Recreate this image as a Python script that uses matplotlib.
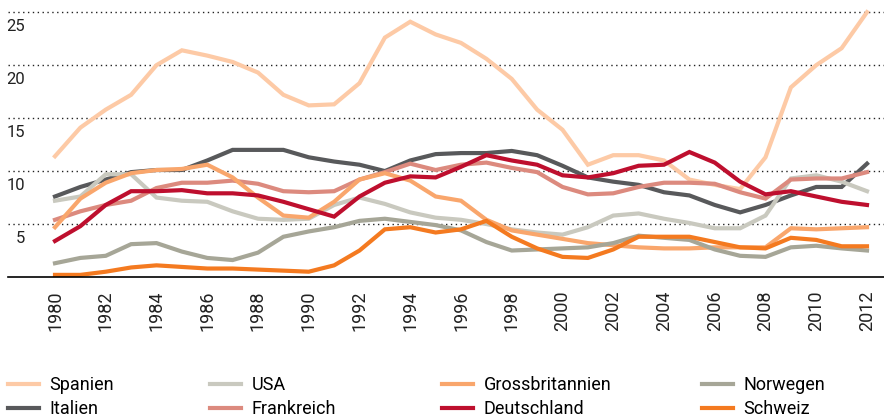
import numpy as np
import matplotlib
matplotlib.use('Agg')
import matplotlib.pyplot as plt
from matplotlib.transforms import ScaledTranslation

plt.rcParams['font.family'] = ['Roboto', 'DejaVu Sans']

years = list(range(1980, 2013))

spanien = [11.4, 14.1, 15.8, 17.2, 20.0, 21.4, 20.9, 20.3, 19.3, 17.2, 16.2, 16.3, 18.3, 22.6, 24.1, 22.9, 22.1,
           20.6, 18.7, 15.8, 13.9, 10.6, 11.5, 11.5, 11.0, 9.2, 8.7, 8.3, 11.3, 17.9, 20.0, 21.6, 25.0]
italien = [7.6, 8.5, 9.2, 9.9, 10.1, 10.1, 11.0, 12.0, 12.0, 12.0, 11.3, 10.9, 10.6, 10.0, 11.0, 11.6, 11.7,
           11.7, 11.9, 11.5, 10.5, 9.4, 9.0, 8.7, 8.0, 7.7, 6.8, 6.1, 6.8, 7.7, 8.5, 8.5, 10.7]
usa = [7.2, 7.6, 9.7, 9.7, 7.5, 7.2, 7.1, 6.2, 5.5, 5.4, 5.5, 6.8, 7.5, 6.9, 6.1, 5.6, 5.4,
       5.0, 4.5, 4.2, 4.0, 4.7, 5.8, 6.0, 5.5, 5.1, 4.6, 4.6, 5.8, 9.3, 9.6, 9.0, 8.1]
frankreich = [5.4, 6.2, 6.8, 7.2, 8.4, 8.9, 8.9, 9.1, 8.8, 8.1, 8.0, 8.1, 9.2, 9.9, 10.7, 10.1, 10.6,
              10.8, 10.3, 9.9, 8.5, 7.8, 7.9, 8.5, 8.9, 8.9, 8.8, 8.0, 7.4, 9.2, 9.3, 9.3, 9.9]
grossbritannien = [4.7, 7.4, 8.9, 9.8, 10.1, 10.2, 10.6, 9.4, 7.5, 5.8, 5.6, 7.1, 9.2, 9.8, 9.1, 7.6, 7.2,
                   5.4, 4.4, 4.0, 3.6, 3.2, 3.0, 2.8, 2.7, 2.7, 2.8, 2.8, 2.8, 4.6, 4.5, 4.6, 4.7]
deutschland = [3.4, 4.8, 6.8, 8.1, 8.1, 8.2, 7.9, 7.9, 7.7, 7.1, 6.4, 5.7, 7.6, 8.9, 9.5, 9.4, 10.4,
               11.5, 11.0, 10.6, 9.6, 9.4, 9.8, 10.5, 10.6, 11.8, 10.8, 9.0, 7.8, 8.1, 7.6, 7.1, 6.8]
norwegen = [1.3, 1.8, 2.0, 3.1, 3.2, 2.4, 1.8, 1.6, 2.3, 3.8, 4.3, 4.7, 5.3, 5.5, 5.2, 4.9, 4.4,
            3.3, 2.5, 2.6, 2.7, 2.8, 3.2, 3.9, 3.7, 3.5, 2.6, 2.0, 1.9, 2.8, 2.95, 2.7, 2.5]
schweiz = [0.2, 0.2, 0.5, 0.9, 1.1, 0.95, 0.8, 0.8, 0.7, 0.6, 0.5, 1.1, 2.5, 4.5, 4.7, 4.2, 4.5,
           5.3, 3.8, 2.7, 1.9, 1.8, 2.6, 3.8, 3.8, 3.8, 3.3, 2.8, 2.7, 3.7, 3.5, 2.9, 2.9]

series = [
    ('Spanien', spanien, '#fdcaa6'),
    ('Italien', italien, '#58595b'),
    ('USA', usa, '#c9c9bf'),
    ('Frankreich', frankreich, '#dc8a7e'),
    ('Grossbritannien', grossbritannien, '#f9a66c'),
    ('Deutschland', deutschland, '#be0f2e'),
    ('Norwegen', norwegen, '#a6a697'),
    ('Schweiz', schweiz, '#f47a20'),
]

fig = plt.figure(figsize=(8.84, 4.19), dpi=100)
ax = fig.add_axes([8 / 884, 1 - 277 / 419, 1 - 8 / 884, (277 - 9) / 419])

handles = []
for name, vals, col in series:
    h, = ax.plot(years, vals, color=col, lw=3.0, label=name, solid_joinstyle='miter', clip_on=False)
    handles.append(h)

ax.set_xlim(1980 - 47 / 25.375, 2012 + 17 / 25.375)
ax.set_ylim(0, 25.3)

for v in [5, 10, 15, 20, 25]:
    ax.axhline(v, color='#222222', lw=1.0, ls=(0, (1, 2.5)), zorder=0)

for s in ['top', 'right', 'left']:
    ax.spines[s].set_visible(False)
ax.spines['bottom'].set_linewidth(1.2)

ax.set_xticks(years[::2])
ax.set_xticklabels([str(y) for y in years[::2]], rotation=90, fontsize=13, color='#222222')
ax.tick_params(axis='x', length=0, pad=10)

ax.set_yticks([5, 10, 15, 20, 25])
ax.set_yticklabels(['5', '10', '15', '20', '25'], fontsize=12, color='#222222')
ax.tick_params(axis='y', length=0, pad=-12.5)
for lab in ax.get_yticklabels():
    lab.set_transform(lab.get_transform() + ScaledTranslation(0, -0.125, fig.dpi_scale_trans))

# one legend per column so the columns sit where they do in the original
col_x = [8, 210, 442, 702]
for i, x0 in enumerate(col_x):
    hs = handles[2 * i:2 * i + 2]
    fig.legend(hs, [h.get_label() for h in hs], loc='upper left',
               bbox_to_anchor=(x0 / 884, 1 - 376 / 419), ncol=1, frameon=False,
               fontsize=13, handlelength=1.7, handletextpad=0.6,
               labelspacing=0.35, borderaxespad=0, borderpad=0)

fig.savefig('out.png', dpi=100)
